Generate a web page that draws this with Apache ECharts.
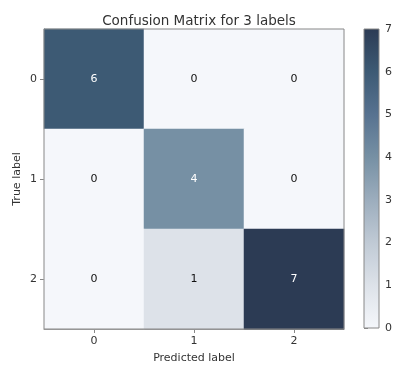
<!DOCTYPE html>
<html>
<head>
<meta charset="utf-8">
<script src="https://cdn.jsdelivr.net/npm/echarts@6/dist/echarts.min.js"></script>
<style>html,body{margin:0;padding:0;background:#fff}#c{width:393px;height:365px}</style>
</head>
<body>
<div id="c"></div>
<script>
var predictedLabels = ['0', '1', '2'];
var trueLabels = ['0', '1', '2'];
// rows = true label, columns = predicted label
var matrix = [
  [6, 0, 0],
  [0, 4, 0],
  [0, 1, 7]
];
var colorTicks = [0, 1, 2, 3, 4, 5, 6, 7];
var colorStops = ['#f5f7fb', '#dde2e9', '#c0cad5', '#9cadbd', '#7690a4', '#577290', '#3d5a74', '#2c3b54'];

var data = [];
for (var r = 0; r < matrix.length; r++) {
  for (var c = 0; c < matrix[r].length; c++) {
    data.push([c, r, matrix[r][c]]);
  }
}
var vmin = 0, vmax = 7;
var gradStops = colorStops.map(function (col, i) {
  return { offset: 1 - i / (colorStops.length - 1), color: col };
}).reverse();

var FONT = 'DejaVu Sans';
var chart = echarts.init(document.getElementById('c'), null, { renderer: 'canvas' });
chart.setOption({
  animation: false,
  backgroundColor: '#fff',
  textStyle: { fontFamily: FONT },
  title: {
    text: 'Confusion Matrix for 3 labels',
    left: 194, top: 9, textAlign: 'center',
    textStyle: { fontFamily: FONT, fontSize: 13.5, fontWeight: 'normal', color: '#333' }
  },
  grid: [
    { left: 44, top: 29, width: 300, height: 300, containLabel: false, outerBoundsMode: 'none' },
    { left: 364, top: 29, width: 15, height: 299, containLabel: false, outerBoundsMode: 'none' }
  ],
  xAxis: [
    {
      type: 'category', data: predictedLabels, gridIndex: 0,
      name: 'Predicted label', nameLocation: 'middle', nameGap: 24,
      nameTextStyle: { fontFamily: FONT, fontSize: 11, color: '#333' },
      axisLine: { show: true, lineStyle: { color: '#888' } },
      axisTick: { show: true, alignWithLabel: true, length: 4, lineStyle: { color: '#888' } },
      axisLabel: { fontFamily: FONT, fontSize: 11, color: '#333', margin: 7 },
      splitLine: { show: false }
    },
    { type: 'value', gridIndex: 1, show: false, min: 0, max: 1 }
  ],
  yAxis: [
    {
      type: 'category', data: trueLabels, gridIndex: 0, inverse: true,
      name: 'True label', nameLocation: 'middle', nameGap: 21, nameRotate: 90,
      nameMoveOverlap: false,
      nameTextStyle: { fontFamily: FONT, fontSize: 11, color: '#333' },
      axisLine: { show: true, lineStyle: { color: '#888' } },
      axisTick: { show: true, alignWithLabel: true, length: 4, lineStyle: { color: '#888' } },
      axisLabel: { fontFamily: FONT, fontSize: 11, color: '#333', margin: 7 },
      splitLine: { show: false }
    },
    {
      type: 'value', gridIndex: 1, position: 'right', min: vmin, max: vmax, interval: 1,
      axisLine: { show: false },
      axisTick: { show: true, length: 4, lineStyle: { color: '#888' } },
      axisLabel: {
        fontFamily: FONT, fontSize: 11, color: '#333', margin: 6,
        formatter: function (v) { return colorTicks.indexOf(v) >= 0 ? String(v) : ''; }
      },
      splitLine: { show: false }
    }
  ],
  visualMap: {
    show: false, type: 'continuous', min: vmin, max: vmax, seriesIndex: 0,
    inRange: { color: colorStops }
  },
  series: [{
    type: 'heatmap', xAxisIndex: 0, yAxisIndex: 0,
    data: data.map(function (d) {
      return { value: d, label: { color: d[2] > vmax / 2 ? '#fff' : '#111' } };
    }),
    label: {
      show: true, fontFamily: FONT, fontSize: 11,
      formatter: function (p) { return String(p.value[2]); }
    },
    itemStyle: { borderWidth: 0 }
  }],
  graphic: [
    {
      type: 'rect', z: 100, silent: true,
      shape: { x: 44, y: 29, width: 300, height: 300 },
      style: { fill: 'none', stroke: '#888', lineWidth: 1 }
    },
    {
      type: 'rect', z: 50, silent: true,
      shape: { x: 364, y: 29, width: 15, height: 299 },
      style: {
        fill: { type: 'linear', x: 0, y: 0, x2: 0, y2: 1, colorStops: gradStops },
        stroke: '#888', lineWidth: 1
      }
    }
  ]
});
</script>
</body>
</html>
